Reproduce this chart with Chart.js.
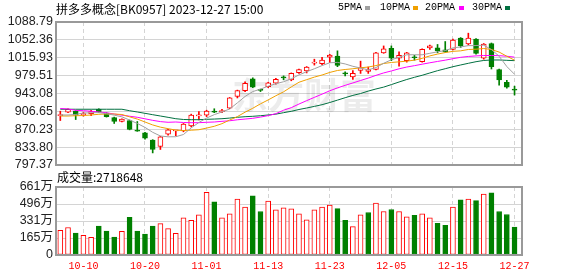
<!DOCTYPE html>
<html>
<head>
<meta charset="utf-8">
<script src="https://cdn.jsdelivr.net/npm/chart.js@4"></script>
<style>
  body { margin: 0; background: #fff; }
  #wrap { position: relative; width: 578px; height: 276px; overflow: hidden; font-family: "Noto Sans CJK SC", sans-serif; }
  canvas { position: absolute; left: 0; top: 0; }
  .txt { position: absolute; white-space: nowrap; color: #000; }
  #title { left: 56px; top: 1px; font-size: 12px; line-height: 16px; }
  #voltitle { left: 57px; top: 169px; font-size: 12px; line-height: 16px; }
  .lg { position: absolute; top: 2px; font: 10px "Liberation Mono", monospace; line-height: 12px; color: #000; }
  .sw { position: absolute; top: 6px; width: 5px; height: 4px; }
</style>
</head>
<body>
<div id="wrap">
  <canvas id="kline" width="578" height="276"></canvas>
  <canvas id="vol" width="578" height="276"></canvas>
  <div id="title" class="txt">拼多多概念[BK0957] 2023-12-27 15:00</div>
  <div id="legend"></div>
  <div id="voltitle" class="txt">成交量:2718648</div>
</div>
<script>
// trading days shown (60 sessions)
const dates = ['09-27','09-28','10-09','10-10','10-11','10-12','10-13','10-16','10-17','10-18',
  '10-19','10-20','10-23','10-24','10-25','10-26','10-27','10-30','10-31','11-01',
  '11-02','11-03','11-06','11-07','11-08','11-09','11-10','11-13','11-14','11-15',
  '11-16','11-17','11-20','11-21','11-22','11-23','11-24','11-27','11-28','11-29',
  '11-30','12-01','12-04','12-05','12-06','12-07','12-08','12-11','12-12','12-13',
  '12-14','12-15','12-18','12-19','12-20','12-21','12-22','12-25','12-26','12-27'];
const xTickIdx = [3, 11, 19, 27, 35, 43, 51, 59];

const open = [898,905,907,900,902,911,903,894,886,888,
  867,863,848,835,860,867,867,877,897.5,899,
  906,906,913,937,949,973,950.5,957,964,976,
  971,985.5,989,1005,1004,1017,1019.5,985,977,990,
  988,992,1026,1035,1015,1010,1017,1008,1036,1036,
  1032,1033,1056,1044,1054,1015,1045,992,966,951];
const high = [907,912,908,905,909,912,904,895,891.5,889,
  886,864,849,856,870,868,882,901,906,909,
  912,911,935,950,967,975,952,966,974,979,
  985,993,998,1013,1017,1023,1030,987,990,1009,
  997,1027,1040,1040,1028,1027,1021,1034,1042,1043,
  1049,1054,1057,1066,1055,1045,1046,993,970,958];
const low = [888,904,890,897,898,904,895,882,885,869,
  866,850,822,829,858,857,865,875,889,896,
  904,904,912,934,947,955,947,955,962,971,
  969,984,985,1001,1002,1006,997.7,979,972,984,
  984,991,1025,1010,999,1007,1011,1007,1033,1026,
  1027,1032,1037,1042,1023,1013,993,960,954,940];
const close = [899,911,899,901,906,905.5,896,886,891,870,
  866.5,852,829,855,869,867.5,881,899,898.5,907,
  905,908,934.5,949,964,956,949.5,965,972,975,
  984,992,997,1006,1011,1021.5,1000.5,983,984,996,
  992,1026,1034,1015,1021,1026,1016,1033,1040,1030,
  1028,1052,1040,1056,1025,1044,998,971,956,950];

const ma5 = [899.3,899.3,900.3,903.3,903.8,904.2,902,899,895.5,889,
  882,874,864,856.5,854.8,855,859.5,873,884,893,
  900,905.5,911.5,924,937,947,952,958,963,967,
  973,981,987.5,993.5,1000,1005.7,1006.5,1003.3,998.5,995,
  991.3,996,1004.6,1011.8,1017,1022,1022,1022,1025,1028,
  1030.5,1036,1038,1040.6,1040.8,1041.5,1032.7,1019,998,982.3];
const ma10 = [897.2,897.2,897.8,898.2,899.3,900.7,901.3,901.3,900.3,895.5,
  891,885,879,874.5,871.4,868.5,867.5,868.3,869.3,872.6,
  876.3,881.6,889,896,905,913,922,930,938.5,946.5,
  956.5,966,971.3,976.5,980.8,986,990,992,993.5,995.5,
  997,1000,1004.2,1006.3,1007.6,1009,1011,1014.8,1019.7,1023.4,
  1026.5,1029,1030,1032.8,1033.4,1034.7,1032.8,1027.5,1019,1011];
const ma20 = [912.5,911.5,908.8,908,907,905.4,903.8,901.3,898.9,896.8,
  894.6,891.5,888.4,885.8,884.4,885,884,883.6,883.6,884.4,
  885,886.4,887.5,889.5,891,892.5,895,898,902,909,
  914.2,921.6,928.5,935.2,941.8,948.6,954.5,959.7,964.6,969.6,
  974.5,980,985,989,993.4,997,999.8,1002.8,1005.7,1008.4,
  1011,1014,1016.8,1018.6,1019.7,1020.5,1020.5,1020.2,1019,1017.2];
const ma30 = [911,911,911,911,911,911,911,911,911,908,
  905.4,902.7,899.9,897.2,894.5,891.7,890.1,889.7,889.7,890.5,
  891,891.7,893,894.6,895.8,896.6,897.8,899.3,901,904,
  906.8,910.5,913.5,916.8,920.3,924.7,929.6,934.5,939.2,943,
  948,952.3,956.1,961.2,966.5,971.6,976.1,980.2,984.9,989.6,
  993.6,997.7,1001.2,1004.6,1007.9,1010.4,1011.4,1011.4,1010.7,1010];

// volume in 万
const volume = [241,267,213,191,172,280,232,175,229,365,
  232,203,280,305,257,210,362,337,391,610,
  518,362,400,543,467,575,423,524,439,458,
  448,400,343,439,467,486,451,337,276,391,
  413,505,423,442,423,372,385,400,362,308,
  289,467,537,543,528,591,604,423,394,271.8648];
const volRise = [1,1,0,1,1,0,0,0,1,0,
  0,0,0,1,1,1,1,1,1,1,
  0,1,1,1,1,0,0,1,1,1,
  1,1,1,1,1,1,0,0,1,1,
  0,1,1,0,1,1,0,1,1,0,
  0,1,0,1,0,1,0,0,0,0];

const priceTicks = [797.37, 833.80, 870.23, 906.65, 943.08, 979.51, 1015.93, 1052.36, 1088.79];
const volTicks = [0, 165.25, 330.5, 495.75, 661];
const volTickLabels = ['0', '165万', '331万', '496万', '661万'];

const maNames = ['5PMA', '10PMA', '20PMA', '30PMA'];
const maColors = ['#a0a0a0', '#f0a000', '#ff00ff', '#007040'];

const RED = '#ff0000';
const GREEN = '#008000';
const GRID = '#d4d4d4';
const FRAME = '#999999';
const TICK_FONT = { family: '"Liberation Sans", "Noto Sans CJK SC", sans-serif', size: 12.5 };
const X_MIN = -0.56, X_MAX = 59.97;

// legend row at the top right
(function () {
  const lg = document.getElementById('legend');
  const textX = [338, 380, 425, 472];
  const swX = [365, 413, 459, 505];
  maNames.forEach((n, i) => {
    const t = document.createElement('span');
    t.className = 'lg'; t.style.left = textX[i] + 'px'; t.textContent = n;
    const s = document.createElement('span');
    s.className = 'sw'; s.style.left = swX[i] + 'px'; s.style.background = maColors[i];
    lg.appendChild(t); lg.appendChild(s);
  });
})();

const framePlugin = {
  id: 'frame',
  afterDatasetsDraw(chart) {
    const { ctx, chartArea: a } = chart;
    ctx.save();
    ctx.strokeStyle = FRAME;
    ctx.lineWidth = 2;
    ctx.strokeRect(a.left, a.top, a.right - a.left, a.bottom - a.top);
    ctx.restore();
  }
};

const watermark = {
  id: 'watermark',
  beforeDatasetsDraw(chart) {
    const ctx = chart.ctx;
    ctx.save();
    ctx.fillStyle = 'rgba(0,0,0,0.075)';
    ctx.font = 'bold 36px "Noto Sans CJK SC"';
    ctx.textAlign = 'center';
    ctx.textBaseline = 'middle';
    ctx.fillText('东方财富', 304, 95);
    ctx.restore();
  }
};

function xScale(showLabels) {
  return {
    type: 'linear', min: X_MIN, max: X_MAX, offset: false,
    afterBuildTicks: s => { s.ticks = xTickIdx.map(v => ({ value: v })); },
    ticks: showLabels
      ? { callback: v => dates[v], color: RED, padding: 5, maxRotation: 0, autoSkip: false,
          font: { family: '"Liberation Mono", monospace', size: 10 } }
      : { display: false },
    grid: { color: GRID, drawTicks: false, offset: false },
    border: { display: false, dash: [4, 3] },
    afterFit: s => { s.height = showLabels ? 21 : 0; }
  };
}

function yScale(min, max, tickVals, label) {
  return {
    type: 'linear', min: min, max: max,
    afterBuildTicks: s => { s.ticks = tickVals.map(v => ({ value: v })); },
    ticks: { callback: label, autoSkip: false, padding: 3, color: '#222', font: TICK_FONT },
    grid: { color: GRID, drawTicks: false },
    border: { display: false },
    afterFit: s => { s.width = 56; }
  };
}

const candleUp = open.map((o, i) => close[i] >= o);

const maSets = [ma5, ma10, ma20, ma30].map((arr, k) => ({
  type: 'line',
  label: maNames[k],
  data: arr.map((v, i) => ({ x: i, y: v })),
  borderColor: maColors[k],
  borderWidth: 1,
  pointRadius: 0,
  tension: 0,
  fill: false,
  order: 0
}));

new Chart(document.getElementById('kline'), {
  type: 'bar',
  data: {
    datasets: [
      ...maSets,
      {
        label: 'body',
        data: open.map((o, i) => ({ x: i, y: [o, close[i]] })),
        backgroundColor: candleUp.map(u => u ? '#ffffff' : GREEN),
        borderColor: candleUp.map(u => u ? RED : GREEN),
        borderWidth: 1,
        borderSkipped: false,
        barThickness: 5,
        minBarLength: 1,
        grouped: false,
        order: 1
      },
      {
        label: 'wick',
        data: low.map((l, i) => ({ x: i, y: [l, high[i]] })),
        backgroundColor: candleUp.map(u => u ? RED : GREEN),
        barThickness: 1,
        grouped: false,
        order: 2
      }
    ]
  },
  options: {
    responsive: false,
    animation: false,
    events: [],
    layout: { padding: { left: 0, right: 56, top: 22, bottom: 111 } },
    plugins: { legend: { display: false }, tooltip: { enabled: false } },
    scales: {
      x: xScale(false),
      y: yScale(797.37, 1088.79, priceTicks, v => v.toFixed(2))
    }
  },
  plugins: [watermark, framePlugin]
});

new Chart(document.getElementById('vol'), {
  type: 'bar',
  data: {
    datasets: [{
      label: '成交量',
      data: volume.map((v, i) => ({ x: i, y: v })),
      backgroundColor: volRise.map(r => r ? '#ffffff' : GREEN),
      borderColor: volRise.map(r => r ? RED : GREEN),
      borderWidth: 1,
      borderSkipped: false,
      barThickness: 5,
      grouped: false
    }]
  },
  options: {
    responsive: false,
    animation: false,
    events: [],
    layout: { padding: { left: 0, right: 56, top: 187, bottom: 0 } },
    plugins: { legend: { display: false }, tooltip: { enabled: false } },
    scales: {
      x: xScale(true),
      y: yScale(0, 661, volTicks, (v, i) => volTickLabels[i])
    }
  },
  plugins: [framePlugin]
});
</script>
</body>
</html>
